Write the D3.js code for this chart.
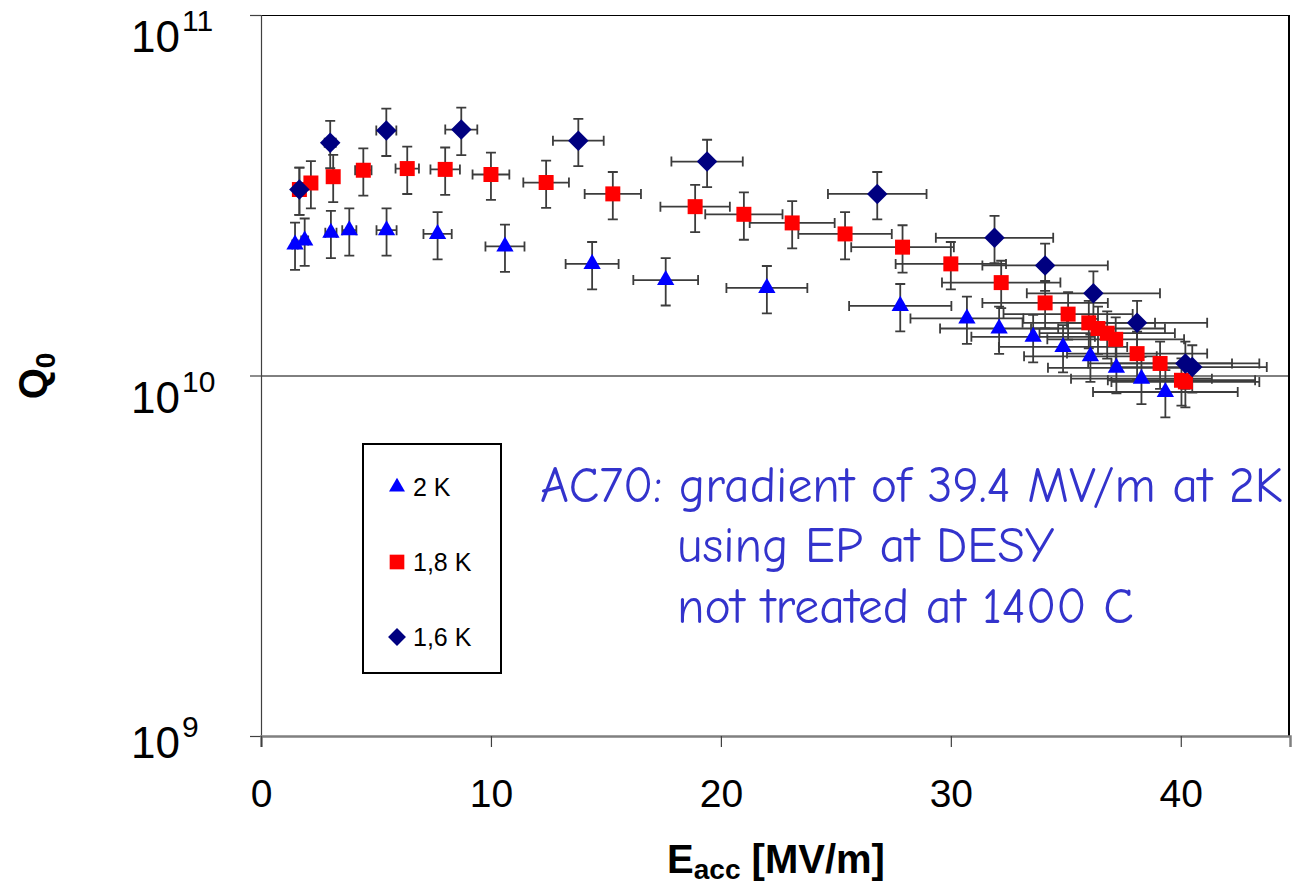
<!DOCTYPE html>
<html>
<head>
<meta charset="utf-8">
<script src="https://cdn.jsdelivr.net/npm/d3@7"></script>
<style>
  body { margin: 0; background: #fff; }
</style>
</head>
<body>
<div class="canvas"></div>
<script>
// data (E in MV/m, Q0 absolute)
const e2K  = [1.48, 1.9, 3.04, 3.84, 5.46, 7.68, 10.61, 14.4, 17.6, 22.0, 27.8, 30.7, 32.1, 33.58, 34.88, 36.07, 37.2, 38.29, 39.33];
const q2K  = [2.31e10, 2.37e10, 2.49e10, 2.53e10, 2.53e10, 2.47e10, 2.28e10, 2.04e10, 1.84e10, 1.75e10, 1.56e10, 1.44e10, 1.35e10, 1.28e10, 1.20e10, 1.13e10, 1.05e10, 0.98e10, 0.90e10];

const e18K = [1.67, 2.17, 3.14, 4.45, 6.36, 8.01, 10.0, 12.4, 15.3, 18.88, 21.0, 23.1, 25.4, 27.9, 30.0, 32.19, 34.1, 35.1, 36.0, 36.4, 36.8, 37.17, 38.1, 39.1, 40.03, 40.2];
const q18K = [3.28e10, 3.42e10, 3.56e10, 3.71e10, 3.75e10, 3.73e10, 3.61e10, 3.43e10, 3.19e10, 2.94e10, 2.80e10, 2.65e10, 2.47e10, 2.27e10, 2.04e10, 1.81e10, 1.59e10, 1.48e10, 1.40e10, 1.35e10, 1.31e10, 1.26e10, 1.15e10, 1.08e10, 0.97e10, 0.96e10];

const e16K = [1.67, 3.01, 5.45, 8.71, 13.8, 19.4, 26.8, 31.9, 34.1, 36.2, 38.1, 40.2, 40.5];
const q16K = [3.28e10, 4.42e10, 4.78e10, 4.81e10, 4.48e10, 3.92e10, 3.19e10, 2.41e10, 2.02e10, 1.69e10, 1.40e10, 1.08e10, 1.055e10];

// relative uncertainties of the error bars
const eErr = 0.08;
const qErr = 0.15;

const seriesNames = ['2 K', '1,8 K', '1,6 K'];
const xTicks = [0, 10, 20, 30, 40];
const yTicks = [1e9, 1e10, 1e11];
const yTickExp = ['9', '10', '11'];
const note = ['AC70: gradient of 39.4 MV/m at 2K', 'using EP at DESY', 'not treated at 1400 C'];

const series = [
  {name: seriesNames[0], e: e2K,  q: q2K,  color: '#0000ff', shape: 'tri'},
  {name: seriesNames[1], e: e18K, q: q18K, color: '#ff0000', shape: 'sq'},
  {name: seriesNames[2], e: e16K, q: q16K, color: '#000080', shape: 'dia'}
];

const width = 1292, height = 885;
const margin = {top: 15, right: 2, bottom: 149, left: 261};
const graphWidth = width - margin.left - margin.right;
const graphHeight = height - margin.top - margin.bottom;

const svg = d3.select('.canvas')
  .append('svg')
    .attr('width', width)
    .attr('height', height)
    .style('font-family', 'Arial, "Liberation Sans", sans-serif');

const graph = svg.append('g')
  .attr('transform', `translate(${margin.left},${margin.top})`);

// scales (x axis runs a bit past 44, the frame is cut at the picture edge)
const x = d3.scaleLinear().domain([0, 44.75]).range([0, graphWidth]);
const y = d3.scaleLog().domain([1e9, 1e11]).range([graphHeight, 0]);

// gridlines at each decade
graph.append('g')
  .call(d3.axisLeft(y).tickValues(yTicks.slice(1)).tickSize(-graphWidth).tickFormat(''))
  .call(g => g.select('.domain').remove())
  .call(g => g.selectAll('line').attr('stroke', '#000').attr('stroke-width', 1));

// right frame
graph.append('line')
  .attr('x1', graphWidth - 1).attr('x2', graphWidth - 1)
  .attr('y1', 0).attr('y2', graphHeight)
  .attr('stroke', '#000').attr('stroke-width', 2);

// y axis
const yAxisGroup = graph.append('g')
  .call(d3.axisLeft(y).tickValues(yTicks).tickSize(11).tickFormat(''));
yAxisGroup.select('.domain').attr('stroke', '#404040').attr('stroke-width', 1.2);
yAxisGroup.selectAll('line').attr('stroke', '#404040').attr('stroke-width', 1.2);

// y labels 10^n
const yLab = svg.append('g');
yTicks.forEach((t, i) => {
  const ty = margin.top + y(t) + (i === 0 ? 22 : 37);
  const txt = yLab.append('text')
    .attr('x', 131).attr('y', ty)
    .attr('font-size', 44).attr('fill', '#000');
  txt.append('tspan').text('10');
  txt.append('tspan').attr('dy', -21).attr('dx', 2).attr('font-size', 30).text(yTickExp[i]);
});

// x axis
const xAxisGroup = graph.append('g')
  .attr('transform', `translate(0,${graphHeight})`)
  .call(d3.axisBottom(x).tickValues(xTicks).tickSize(11).tickPadding(32));
xAxisGroup.select('.domain').attr('stroke', '#808080').attr('stroke-width', 2.5);
xAxisGroup.selectAll('.tick line').attr('stroke', '#404040').attr('stroke-width', 1.2);
xAxisGroup.selectAll('.tick text')
  .attr('font-size', 39).attr('fill', '#000')
  .attr('font-family', 'Arial, "Liberation Sans", sans-serif');

// axis titles
const xt = svg.append('text')
  .attr('x', 776).attr('y', 873)
  .attr('text-anchor', 'middle')
  .attr('font-size', 40).attr('font-weight', 'bold');
xt.append('tspan').text('E');
xt.append('tspan').attr('dy', 6).attr('font-size', 28).text('acc');
xt.append('tspan').attr('dy', -6).text(' [MV/m]');

const yt = svg.append('text')
  .attr('transform', 'translate(47,376) rotate(-90)')
  .attr('text-anchor', 'middle')
  .attr('font-size', 40).attr('font-weight', 'bold');
yt.append('tspan').text('Q');
yt.append('tspan').attr('dy', 8).attr('font-size', 28).text('0');

// error bars
const cap = 5;
const errG = graph.append('g')
  .attr('stroke', '#3c3c3c').attr('stroke-width', 1.8).attr('fill', 'none');
series.forEach(s => {
  s.e.forEach((e, i) => {
    const q = s.q[i];
    const cx = x(e), cy = y(q);
    const xl = x(e * (1 - eErr)), xr = x(e * (1 + eErr));
    const yb = y(q * (1 - qErr)), yt2 = y(q * (1 + qErr));
    errG.append('path')
      .attr('d', `M${xl},${cy}H${xr}M${xl},${cy - cap}V${cy + cap}M${xr},${cy - cap}V${cy + cap}` +
                 `M${cx},${yt2}V${yb}M${cx - cap},${yt2}H${cx + cap}M${cx - cap},${yb}H${cx + cap}`);
  });
});

// marker shapes
const shapeSym = {
  tri: d3.symbol().type(d3.symbolTriangle).size(130)(),
  sq: d3.symbol().type(d3.symbolSquare).size(225)(),
  dia: d3.symbol().type(d3.symbolSquare).size(210)()
};
const shapeRot = {tri: 0, sq: 0, dia: 45};

series.forEach(s => {
  graph.append('g').selectAll('path')
    .data(s.e.map((e, i) => [e, s.q[i]]))
    .enter()
    .append('path')
      .attr('d', shapeSym[s.shape])
      .attr('transform', d => `translate(${x(d[0])},${y(d[1])}) rotate(${shapeRot[s.shape]})`)
      .attr('fill', s.color);
});

// legend
const legend = svg.append('g');
legend.append('rect')
  .attr('x', 363).attr('y', 444).attr('width', 138).attr('height', 229)
  .attr('fill', '#fff').attr('stroke', '#000').attr('stroke-width', 2);
const legSym = {
  tri: d3.symbol().type(d3.symbolTriangle).size(110)(),
  sq: d3.symbol().type(d3.symbolSquare).size(215)(),
  dia: d3.symbol().type(d3.symbolSquare).size(160)()
};
series.forEach((s, i) => {
  const ly = 487 + i * 75;
  legend.append('path')
    .attr('d', legSym[s.shape])
    .attr('transform', `translate(397,${ly}) rotate(${shapeRot[s.shape]})`)
    .attr('fill', s.color);
  legend.append('text')
    .attr('x', 413).attr('y', ly + 9)
    .attr('font-size', 25).attr('fill', '#000')
    .text(s.name);
});

// annotation
const noteG = svg.append('g')
  .attr('fill', '#3333cc')
  .style('font-family', '"Comic Sans MS", "Comic Neue", "DejaVu Sans", cursive');
const noteX = [540, 677, 677];
const noteY = [502, 562, 623];
const noteText = note.map((t, i) => noteG.append('text')
  .attr('x', noteX[i]).attr('y', noteY[i])
  .attr('font-size', 34).text(t));
// fit first line to its width in the picture
const w0 = noteText[0].node().getComputedTextLength();
const fs = 34 * 743 / w0;
noteText.forEach(t => t.attr('font-size', fs));
</script>
</body>
</html>
